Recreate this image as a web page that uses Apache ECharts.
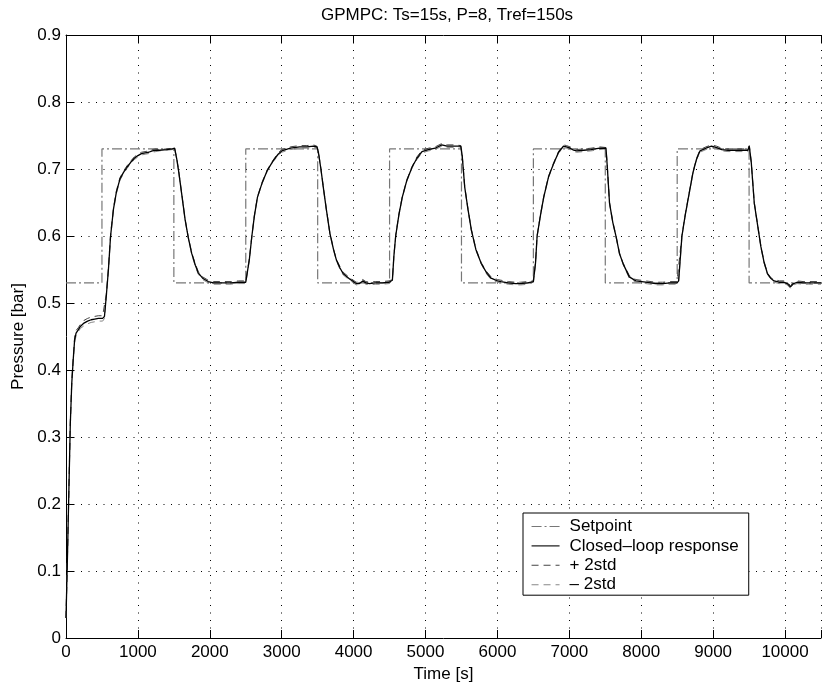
<!DOCTYPE html>
<html>
<head>
<meta charset="utf-8">
<script src="https://cdn.jsdelivr.net/npm/echarts@6/dist/echarts.min.js"></script>
<style>html,body{margin:0;padding:0;background:#fff}#c{width:824px;height:688px}</style>
</head>
<body>
<div id="c"></div>
<script>
// ---- data ----
const titleText = 'GPMPC: Ts=15s, P=8, Tref=150s';
const xName = 'Time [s]';
const yName = 'Pressure [bar]';
const legendNames = ['Setpoint', 'Closed\u2013loop response', '+ 2std', '\u2013 2std'];

// setpoint steps: [time, level]
const setpoint = [
  [0, 0.53], [500, 0.73], [1500, 0.53], [2500, 0.73], [3500, 0.53], [4500, 0.73],
  [5500, 0.53], [6500, 0.73], [7500, 0.53], [8500, 0.73], [9500, 0.53], [10500, 0.53]
];

// closed-loop response (mean): [time, pressure]
const response = [
  [0,.030],[20,.120],[40,.220],[60,.320],[80,.380],[100,.415],[120,.445],[140,.455],[170,.460],[200,.465],
  [250,.470],[300,.473],[350,.475],[400,.476],[450,.477],[510,.477],[535,.480],[560,.510],[590,.550],[620,.600],
  [660,.640],[700,.665],[750,.685],[800,.695],[850,.703],[900,.710],[950,.716],[1000,.720],[1050,.723],[1100,.724],
  [1150,.725],[1200,.727],[1250,.728],[1300,.728],[1400,.729],[1480,.730],[1510,.731],[1540,.715],[1565,.698],[1600,.670],
  [1657,.624],[1700,.598],[1748,.574],[1800,.556],[1839,.545],[1900,.537],[1977,.532],[2050,.530],[2100,.530],[2200,.530],
  [2300,.530],[2400,.531],[2500,.531],[2520,.532],[2550,.565],[2585,.600],[2620,.630],[2663,.658],[2730,.680],[2800,.698],
  [2880,.712],[2950,.722],[3000,.727],[3120,.731],[3250,.733],[3350,.733],[3441,.734],[3490,.733],[3510,.725],[3545,.700],
  [3578,.673],[3620,.640],[3670,.604],[3720,.580],[3761,.564],[3807,.553],[3853,.544],[3944,.536],[4036,.529],[4080,.529],
  [4128,.533],[4170,.530],[4219,.529],[4300,.530],[4400,.530],[4493,.531],[4539,.534],[4560,.570],[4585,.600],[4630,.632],
  [4677,.658],[4740,.683],[4814,.703],[4880,.716],[4951,.726],[5040,.729],[5134,.731],[5226,.736],[5300,.734],[5400,.734],
  [5490,.734],[5510,.720],[5545,.673],[5590,.640],[5637,.609],[5700,.580],[5775,.559],[5850,.545],[5912,.537],[6000,.533],
  [6049,.532],[6150,.530],[6250,.529],[6324,.529],[6420,.530],[6500,.532],[6530,.560],[6552,.600],[6600,.632],[6644,.658],
  [6710,.688],[6781,.708],[6850,.725],[6918,.734],[6960,.733],[7010,.731],[7060,.728],[7102,.727],[7200,.728],[7300,.729],
  [7422,.731],[7510,.731],[7530,.700],[7559,.649],[7605,.620],[7650,.599],[7697,.574],[7750,.558],[7834,.539],[7925,.533],
  [8062,.531],[8199,.529],[8300,.529],[8400,.530],[8497,.530],[8520,.533],[8566,.600],[8610,.630],[8657,.658],[8720,.695],
  [8770,.715],[8817,.727],[8900,.731],[8977,.734],[9050,.732],[9120,.729],[9206,.728],[9300,.728],[9400,.728],[9481,.728],
  [9503,.734],[9530,.710],[9572,.649],[9620,.615],[9664,.584],[9710,.560],[9755,.544],[9800,.537],[9847,.533],[9920,.531],
  [9984,.531],[10030,.529],[10076,.524],[10120,.529],[10167,.531],[10250,.530],[10330,.530],[10500,.530]
];

// two standard deviations at each response sample
const twoStd = [
  .000,.002,.003,.004,.004,.004,.004,.004,.003,.003,
  .004,.004,.004,.004,.004,.004,.003,.003,.003,.003,
  .002,.002,.002,.002,.002,.002,.002,.002,.002,.002,
  .002,.002,.002,.001,.001,.001,.001,.001,.001,.001,
  .001,.001,.001,.002,.002,.002,.002,.002,.002,.002,
  .002,.002,.002,.001,.001,.001,.001,.001,.001,.001,
  .001,.002,.002,.002,.002,.002,.002,.001,.001,.001,
  .001,.001,.001,.001,.001,.002,.002,.002,.002,.002,
  .002,.002,.002,.002,.002,.002,.001,.001,.001,.001,
  .001,.001,.001,.002,.002,.002,.002,.002,.002,.002,
  .001,.001,.001,.001,.001,.001,.001,.002,.002,.002,
  .002,.002,.002,.002,.002,.001,.001,.001,.001,.001,
  .001,.001,.001,.002,.002,.002,.002,.002,.002,.002,
  .002,.001,.001,.001,.001,.001,.001,.001,.002,.002,
  .002,.002,.002,.002,.002,.001,.001,.001,.001,.001,
  .001,.002,.002,.002,.002,.002,.002,.002,.002,.002,
  .001,.001,.001,.001,.001,.001,.001,.001,.002,.002,
  .002,.002,.002,.002,.002,.002,.002,.002
];

const xMin = 0, xMax = 10500, xStep = 1000;
const yMin = 0, yMax = 0.9, yStep = 0.1;

// ---- chart ----
const FONT = 'Liberation Sans, Arial, Helvetica, sans-serif';
const FS = 17;
const upper = response.map((p, i) => [p[0], p[1] + (twoStd[i] || 0)]);
const lower = response.map((p, i) => [p[0], p[1] - (twoStd[i] || 0)]);

const chart = echarts.init(document.getElementById('c'), null, {renderer: 'canvas'});
const gridLine = {show: true, lineStyle: {color: '#000', type: [1, 6.5], width: 1}};
const option = {
  animation: false,
  backgroundColor: '#fff',
  textStyle: {fontFamily: FONT},
  title: {
    text: titleText, left: 321, top: 7, padding: 0,
    textStyle: {fontFamily: FONT, fontSize: FS, fontWeight: 'normal', color: '#000'}
  },
  grid: {left: 66, top: 35, width: 765, height: 603, containLabel: false},
  legend: {
    data: legendNames,
    orient: 'vertical',
    left: 523, top: 513,
    padding: [5, 10, 2, 8],
    itemGap: 2.4,
    itemWidth: 28, itemHeight: 18,
    backgroundColor: '#fff',
    borderColor: '#000', borderWidth: 1, borderRadius: 0,
    itemStyle: {opacity: 0},
    lineStyle: {width: 1.1},
    textStyle: {fontFamily: FONT, fontSize: FS, color: '#000', padding: [0, 0, 0, 5]},
    z: 10
  },
  xAxis: [{
    type: 'value', min: xMin, max: xMax, interval: xStep, position: 'bottom',
    name: xName, nameLocation: 'middle', nameGap: 25,
    nameTextStyle: {fontFamily: FONT, fontSize: FS, color: '#000'},
    axisLine: {show: true, lineStyle: {color: '#000', width: 1}},
    axisTick: {show: true, inside: true, length: 8, lineStyle: {color: '#000'}},
    axisLabel: {show: true, margin: 6, fontFamily: FONT, fontSize: FS, color: '#000',
      formatter: v => (v > 10000 ? '' : String(v))},
    splitLine: gridLine
  }, {
    type: 'value', min: xMin, max: xMax, interval: xStep, position: 'top',
    axisLine: {show: true, lineStyle: {color: '#000', width: 1}},
    axisTick: {show: true, inside: true, length: 8, lineStyle: {color: '#000'}},
    axisLabel: {show: false}, splitLine: {show: false}
  }],
  yAxis: [{
    type: 'value', min: yMin, max: yMax, interval: yStep, position: 'left',
    name: yName, nameLocation: 'middle', nameGap: 36, nameRotate: 90,
    nameTextStyle: {fontFamily: FONT, fontSize: FS, color: '#000'},
    axisLine: {show: true, lineStyle: {color: '#000', width: 1}},
    axisTick: {show: true, inside: true, length: 8, lineStyle: {color: '#000'}},
    axisLabel: {show: true, margin: 5, fontFamily: FONT, fontSize: FS, color: '#000',
      formatter: v => String(Math.round(v * 10) / 10)},
    splitLine: gridLine
  }],
  series: [{
    name: legendNames[0], type: 'line', step: 'end', data: setpoint,
    symbol: 'none', z: 2, itemStyle: {color: '#777'},
    lineStyle: {color: '#777', width: 1.2, type: [10, 3, 2, 3]}
  }, {
    name: legendNames[1], type: 'line', data: response,
    symbol: 'none', z: 5, itemStyle: {color: '#000'},
    lineStyle: {color: '#000', width: 1.3, type: 'solid'}
  }, {
    name: legendNames[2], type: 'line', data: upper,
    symbol: 'none', z: 4, itemStyle: {color: '#444'},
    lineStyle: {color: '#444', width: 1, type: [7, 5]}
  }, {
    name: legendNames[3], type: 'line', data: lower,
    symbol: 'none', z: 4, itemStyle: {color: '#888'},
    lineStyle: {color: '#888', width: 1, type: [7, 5]}
  }]
};
chart.setOption(option);
</script>
</body>
</html>
